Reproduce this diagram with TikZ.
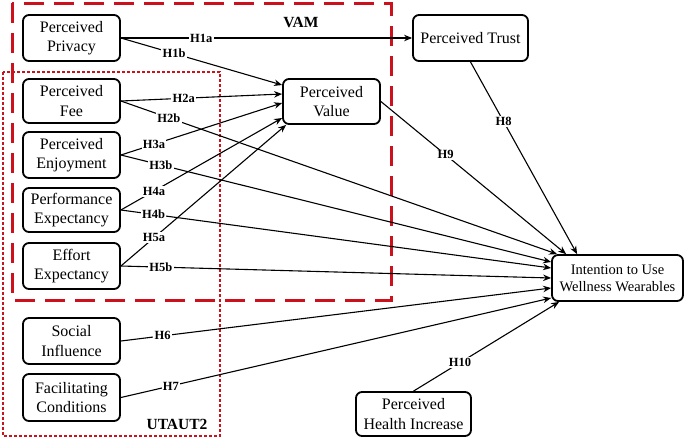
\documentclass[tikz,border=0pt]{standalone}
\usepackage{fontspec}
\setmainfont{Liberation Serif}
\usetikzlibrary{arrows.meta,calc}
\definecolor{vamred}{RGB}{204,17,28}
\begin{document}
\begin{tikzpicture}[x=1pt,y=-1pt,
 box/.style={draw, line width=1.8pt, rounded corners=6pt, align=center, inner sep=1pt, font=\fontsize{16}{19.5}\selectfont},
 lab/.style={fill=white, inner sep=1.2pt, font=\bfseries\fontsize{12.5}{14}\selectfont},
 conn/.style={line width=1.1pt, -{Stealth[length=8pt,width=6.5pt]}},
 grp/.style={font=\bfseries\fontsize{15.5}{18}\selectfont},
]
\useasboundingbox (0,0) rectangle (685,440);
% group frames
\draw[vamred, line width=3pt, dash pattern=on 20pt off 10pt] (12,3) rectangle (391,300);
\draw[vamred, line width=2.7pt, dash pattern=on 2.6pt off 2.4pt] (3,72) rectangle (220,436);
\node[grp] (vam) at (301,22) {VAM};
\node[grp] (utaut) at (177,424) {UTAUT2};

% nodes
\node[box, minimum width=97pt, minimum height=46pt] (pp) at (71.5,38) {Perceived\\Privacy};
\node[box, minimum width=97pt, minimum height=44pt] (pf) at (71.5,101) {Perceived\\Fee};
\node[box, minimum width=97pt, minimum height=46pt] (pe) at (71.5,155) {Perceived\\Enjoyment};
\node[box, minimum width=97pt, minimum height=44pt] (pex) at (71.5,210) {Performance\\Expectancy};
\node[box, minimum width=97pt, minimum height=46pt] (ee) at (71.5,266) {Effort\\Expectancy};
\node[box, minimum width=97pt, minimum height=46pt] (si) at (71.5,341) {Social\\Influence};
\node[box, minimum width=97pt, minimum height=47pt] (fc) at (71.5,397.5) {Facilitating\\Conditions};
\node[box, minimum width=97pt, minimum height=45pt] (pv) at (331.5,101.5) {Perceived\\Value};
\node[box, minimum width=115pt, minimum height=46pt] (pt) at (470.5,38) {Perceived Trust};
\node[box, minimum width=131pt, minimum height=46pt, font=\fontsize{14.5}{17}\selectfont] (iu) at (617.5,278) {Intention to Use\\Wellness Wearables};
\node[box, minimum width=115pt, minimum height=44pt] (ph) at (413.5,414) {Perceived\\Health Increase};

% end points on Perceived Value
\coordinate (v1) at ($(pv.west)+(0,-16.5)$);
\coordinate (v2) at ($(pv.west)+(0,-7.5)$);
\coordinate (v3) at ($(pv.west)+(0,1.5)$);
\coordinate (v4) at ($(pv.west)+(0,16.5)$);
\coordinate (v5) at ($(pv.south west)+(4,0)$);
% end points on Intention
\coordinate (i1) at ($(iu.north west)+(6,0)$);
\coordinate (i2) at ($(iu.north west)+(15,0)$);
\coordinate (i3) at ($(iu.north west)+(26,0)$);
\coordinate (i4) at ($(iu.west)+(0,-16)$);
\coordinate (i5) at ($(iu.west)+(0,-10)$);
\coordinate (i6) at ($(iu.west)+(0,0)$);
\coordinate (i7) at ($(iu.west)+(0,10)$);
\coordinate (i8) at ($(iu.west)+(0,20)$);
\coordinate (i9) at ($(iu.south west)+(8,0)$);

% connectors
\draw[conn] (pp.east) -- node[lab, pos=0.276] (h1a) {H1a} (pt.west);
\draw[conn] (pp.east) -- node[lab, pos=0.33] (h1b) {H1b} (v1);
\draw[conn] (pf.east) -- node[lab, pos=0.39] (h2a) {H2a} (v2);
\draw[conn] (pe.east) -- node[lab, pos=0.205] (h3a) {H3a} (v3);
\draw[conn] (pex.east) -- node[lab, pos=0.205] (h4a) {H4a} (v4);
\draw[conn] (ee.east) -- node[lab, pos=0.2] (h5a) {H5a} (v5);
\draw[conn] (pf.east) -- node[lab, pos=0.11] (h2b) {H2b} (i1);
\draw[conn] (pv.east) -- node[lab, pos=0.35] (h9) {H9} (i2);
\draw[conn] (pt.south) -- node[lab, pos=0.31] (h8) {H8} (i3);
\draw[conn] (pe.east) -- node[lab, pos=0.093] (h3b) {H3b} (i4);
\draw[conn] (pex.east) -- node[lab, pos=0.076] (h4b) {H4b} (i5);
\draw[conn] (ee.east) -- node[lab, pos=0.093] (h5b) {H5b} (i6);
\draw[conn] (si.east) -- node[lab, pos=0.097] (h6) {H6} (i7);
\draw[conn] (fc.east) -- node[lab, pos=0.116] (h7) {H7} (i8);
\draw[conn] (ph.north) -- node[lab, pos=0.32] (h10) {H10} (i9);
\end{tikzpicture}
\end{document}
